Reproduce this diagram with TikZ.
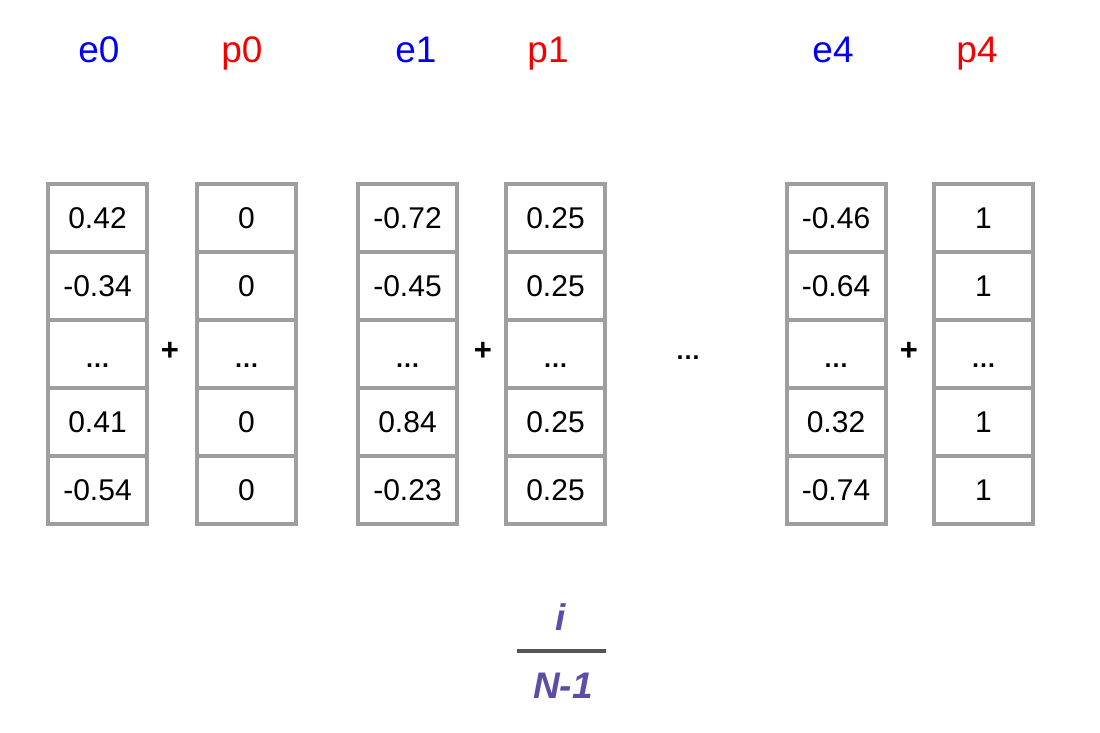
\documentclass[tikz,border=0pt]{standalone}
\usepackage{fontspec}
\setmainfont{Liberation Sans}
\definecolor{cellgray}{HTML}{9E9E9E}
\definecolor{eblue}{HTML}{0000F5}
\definecolor{pred}{HTML}{F50000}
\definecolor{fracpurple}{HTML}{5A4EA6}
\definecolor{bargray}{HTML}{555555}
\tikzset{
  cell/.style={draw=cellgray, line width=4pt, minimum width=99pt, minimum height=68pt,
    inner sep=0pt, text height=21pt, text depth=0pt, font=\fontsize{30}{32}\selectfont},
  elabel/.style={text=eblue, anchor=base, font=\fontsize{37}{40}\selectfont},
  plabel/.style={text=pred, anchor=base, font=\fontsize{37}{40}\selectfont},
  plussign/.style={font=\bfseries\fontsize{31}{34}\selectfont},
  fractext/.style={text=fracpurple, font=\bfseries\itshape\fontsize{37}{40}\selectfont},
}
\newcommand{\celldots}{\raisebox{-3pt}{\bfseries\fontsize{25}{27}\selectfont …}}
\begin{document}
\begin{tikzpicture}[x=1pt,y=-1pt]
\useasboundingbox (0,0) rectangle (1100,732);
% column cells
\foreach \name/\cx/\a/\b/\d/\e in {
  e0/97.5/0.42/-0.34/0.41/-0.54,
  p0/246.5/0/0/0/0,
  e1/407.5/-0.72/-0.45/0.84/-0.23,
  p1/555.5/0.25/0.25/0.25/0.25,
  e4/836/-0.46/-0.64/0.32/-0.74,
  p4/983.5/1/1/1/1}{
  \node[cell] (\name-1) at (\cx,218) {\a};
  \node[cell] (\name-2) at (\cx,286) {\b};
  \node[cell] (\name-3) at (\cx,354) {\celldots};
  \node[cell] (\name-4) at (\cx,422) {\d};
  \node[cell] (\name-5) at (\cx,490) {\e};
}
% headers
\node[elabel] (le0) at (99,62) {e0};
\node[plabel] (lp0) at (242,62) {p0};
\node[elabel] (le1) at (416,62) {e1};
\node[plabel] (lp1) at (548,62) {p1};
\node[elabel] (le4) at (833,62) {e4};
\node[plabel] (lp4) at (977,62) {p4};
% plus signs
\node[plussign] (plus0) at (170,351) {+};
\node[plussign] (plus1) at (483,351) {+};
\node[plussign] (plus4) at (909,351) {+};
% middle ellipsis
\node[font=\bfseries\fontsize{25}{27}\selectfont] (dots) at (688,358) {…};
% fraction
\node[fractext] (num) at (561,617) {i};
\coordinate (barl) at (517,651);
\coordinate (barr) at (606,651);
\draw[bargray, line width=4pt] (barl) -- (barr);
\node[fractext] (den) at (563,686) {N-1};
\end{tikzpicture}
\end{document}
